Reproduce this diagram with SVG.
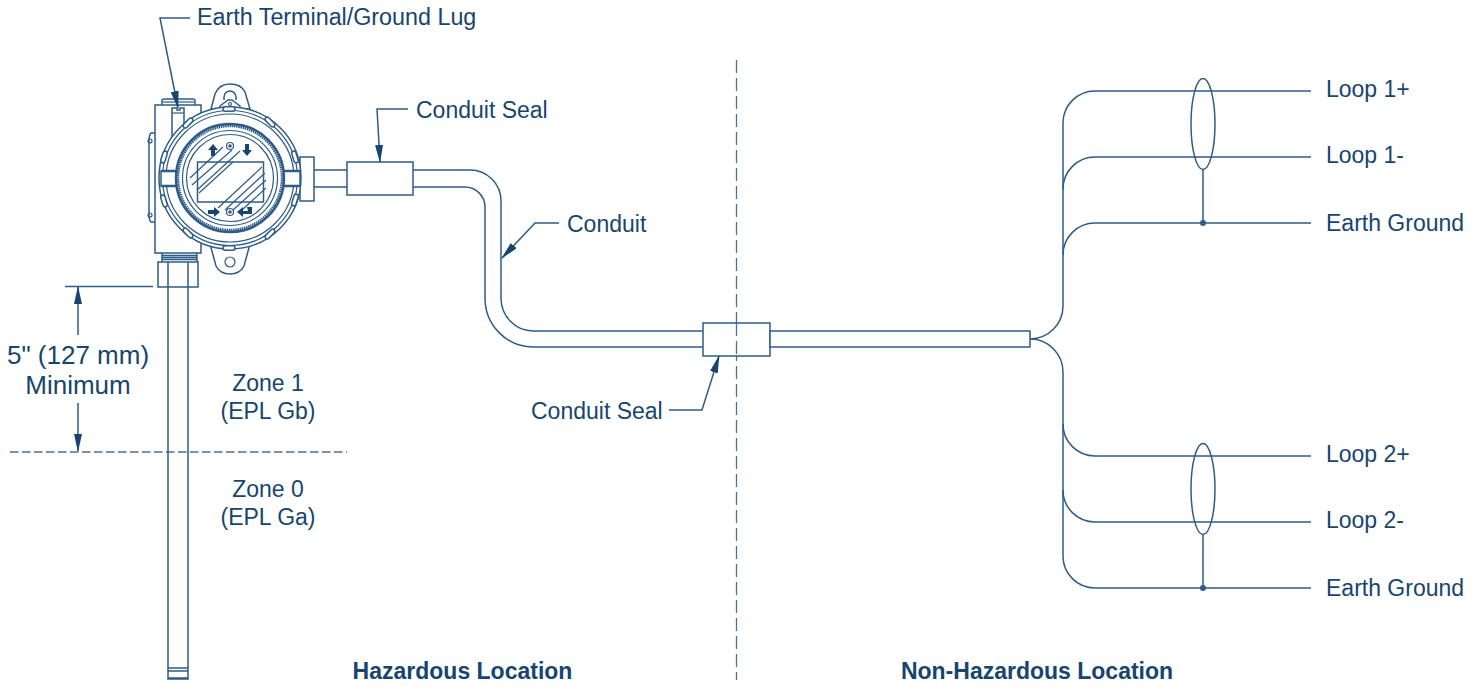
<svg xmlns="http://www.w3.org/2000/svg" xmlns:xlink="http://www.w3.org/1999/xlink" width="1481" height="686" viewBox="0 0 1481 686">
<style>
text{font-family:"Liberation Sans",Arial,sans-serif;font-size:23px;fill:#17456e}
.b{font-weight:bold}
.big{font-size:26px}
.m{text-anchor:middle}
.l{fill:none;stroke:#2f5c87;stroke-width:1.5}
.t{fill:none;stroke:#2f5c87;stroke-width:1.200}
.w{fill:#fff;stroke:#2f5c87;stroke-width:1.500}
.f{fill:#17456e;stroke:none}
.k{fill:none;stroke:#2f5c87;stroke-width:2.500}
.d{fill:none;stroke:#4a7096;stroke-width:1.300}
</style>
<defs>
<marker id="a" markerUnits="userSpaceOnUse" markerWidth="18" markerHeight="8" refX="17" refY="4" orient="auto"><path d="M0 0L18 4L0 8Z" fill="#17456e"/></marker>
<rect id="bolt" x="-2.200" y="-6" width="4.400" height="12" rx="2.200" class="w"/>
</defs>
<g id="zone-lines">
<path class="d" d="M736.500 60V680" stroke-dasharray="13 5"/>
<path class="d" d="M10 452H347" stroke-dasharray="8.500 3.500"/>
</g>
<g id="probe">
<path class="l" d="M168 287V679H188V287M168 668H188M168 671H188M168 678H188"/>
</g>
<g id="transmitter">
<path class="w" d="M162 105V100Q162 99 164 99H193Q195 99 195 100V105"/>
<path class="t" d="M163 102H194"/>
<path class="w" d="M155 105H201V253H155Z"/>
<path class="l" d="M155 133H151Q149 135 149 141V214Q149 220 151 222H155"/>
<circle class="t" cx="150" cy="141" r="2"/><circle class="t" cx="150" cy="215" r="2"/>
<path class="w" d="M172 137V108H177V110H180V108H184V137"/>
<path class="t" d="M172 113H184"/>
<path class="l" d="M162 253V262M197 253V262M162 255.500H197M162 257.500H197M162 259.500H197"/>
<rect class="w" x="158" y="262" width="40" height="25"/>
<path class="l" d="M168 262V287M188 262V287"/>
<path class="w" d="M211 109L215 94Q219 84 230 84Q241 84 245 92L250 109Z"/>
<path class="l" d="M224 100V97A6 6 0 0 1 236 97V100"/>
<path class="w" d="M220 106L228 100H232L240 106V110H220Z"/>
<circle class="t" cx="230" cy="104" r="1.500"/>
<path class="w" d="M210 244L216 266Q220 274 230 274Q240 274 244 266L250 244Z"/>
<circle class="t" cx="230" cy="262" r="5"/>
<path class="w" d="M300 157H314V201H300Z"/>
<path class="l" d="M314 170H347M314 187H347"/>
<circle class="w" cx="230" cy="178" r="71"/>
<circle class="t" cx="230" cy="178" r="67.500"/>
<circle class="t" cx="230" cy="178" r="64"/>
<g>
<use xlink:href="#bolt" href="#bolt" transform="translate(270 122) rotate(-45)"/>
<use xlink:href="#bolt" href="#bolt" transform="translate(295 157) rotate(-17)"/>
<use xlink:href="#bolt" href="#bolt" transform="translate(295 200) rotate(17)"/>
<use xlink:href="#bolt" href="#bolt" transform="translate(270 234) rotate(45)"/>
<use xlink:href="#bolt" href="#bolt" transform="translate(229 248) rotate(90)"/>
<use xlink:href="#bolt" href="#bolt" transform="translate(188 233) rotate(-45)"/>
<use xlink:href="#bolt" href="#bolt" transform="translate(164 201) rotate(-17)"/>
<use xlink:href="#bolt" href="#bolt" transform="translate(164 157) rotate(17)"/>
<use xlink:href="#bolt" href="#bolt" transform="translate(188 123) rotate(45)"/>
<use xlink:href="#bolt" href="#bolt" transform="translate(229 109) rotate(90)"/>
</g>
<path class="w" d="M161 171H178V186H161ZM282 171H300V186H282Z"/>
<path class="k" d="M161 171H178M161 186H178M282 171H300M282 186H300"/>
<circle cx="230" cy="178" r="54" fill="#fff" stroke="#2f5c87" stroke-width="2.500"/>
<circle cx="230" cy="178" r="52" fill="none" stroke="#2f5c87" stroke-width="2.500" stroke-dasharray="1.500 .7"/>
<circle class="t" cx="230" cy="178" r="47.500"/>
<circle class="t" cx="230" cy="178" r="43.500"/>
<rect class="l" x="197.500" y="162" width="66" height="40"/>
<path class="t" d="M190 178L223 147M192 185L232 150M197 190L240 151M199 193L233 162M218 208L262 167M225 210L265 173M233 210L266 180M242 210L266 188"/>
<path class="f" d="M213 144L218 150H215V156H211V150H208ZM247 156L242 150H245V144H249V150H252ZM208 210H214V207L220 212L214 217V214H208ZM247 207H252V214H243V217L237 212L243 207V211H248Z"/>
<circle class="t" cx="230" cy="146" r="3.500"/><circle cx="230" cy="146" r="1.800" fill="#2f5c87"/>
<circle class="t" cx="230" cy="212" r="3.500"/><circle cx="230" cy="212" r="1.800" fill="#2f5c87"/>
</g>
<g id="conduit-1">
<path class="l" d="M413 170H470A31 31 0 0 1 501 201V298A32 33 0 0 0 533 331H703M413 187H465A20 20 0 0 1 485 207V298A48 49 0 0 0 533 347H703"/>
</g>
<g id="conduit-seal-1"><rect class="w" x="347" y="162" width="66" height="33"/></g>
<g id="conduit-seal-2"><rect class="w" x="703" y="323" width="67" height="33"/><path class="d" d="M736.500 323V356" stroke-dasharray="13 5"/></g>
<g id="conduit-2"><rect class="w" x="770" y="331" width="260" height="16"/></g>
<g id="connectors">
<path class="l" d="M1311 91H1095A32 32 0 0 0 1063 123V306A33 33 0 0 1 1030 339A33 33 0 0 1 1063 372V556A32 32 0 0 0 1095 588H1311"/>
<path class="l" d="M1063 189A32 32 0 0 1 1095 157H1311M1063 255A32 32 0 0 1 1095 223H1311M1063 424A32 32 0 0 0 1095 456H1311M1063 490A32 32 0 0 0 1095 522H1311"/>
<ellipse class="l" cx="1203" cy="124" rx="12" ry="45.500"/>
<ellipse class="l" cx="1203" cy="489" rx="12" ry="45.500"/>
<path class="l" d="M1203 169.500V223M1203 534.500V588"/>
<circle cx="1203" cy="223" r="3" fill="#2f5c87"/><circle cx="1203" cy="588" r="3" fill="#2f5c87"/>
<path class="l" d="M190 18H160L178 108" marker-end="url(#a)"/>
<path class="l" d="M408 109H377L380 162" marker-end="url(#a)"/>
<path class="l" d="M559 223H535L502 258" marker-end="url(#a)"/>
<path class="l" d="M669 410H702L719 356" marker-end="url(#a)"/>
<path class="l" d="M65 286.500H153"/>
<path class="l" d="M78 335V287" marker-end="url(#a)"/>
<path class="l" d="M78 403V451" marker-end="url(#a)"/>
</g>
<g id="labels">
<text x="197" y="25" style="font-size:23.300px">Earth Terminal/Ground Lug</text>
<text x="416" y="117.500">Conduit Seal</text>
<text x="567" y="231.500">Conduit</text>
<text x="531" y="418.500">Conduit Seal</text>
<text class="big m" x="78" y="363.500">5" (127 mm)</text>
<text class="big m" x="78" y="394">Minimum</text>
<text class="m" x="268" y="391">Zone 1</text>
<text class="m" x="268" y="419">(EPL Gb)</text>
<text class="m" x="268" y="497">Zone 0</text>
<text class="m" x="268" y="525">(EPL Ga)</text>
<text x="1326" y="97">Loop 1+</text>
<text x="1326" y="163">Loop 1-</text>
<text x="1326" y="231">Earth Ground</text>
<text x="1326" y="462">Loop 2+</text>
<text x="1326" y="528">Loop 2-</text>
<text x="1326" y="596">Earth Ground</text>
<text class="b m" x="462.500" y="679">Hazardous Location</text>
<text class="b m" x="1037" y="679">Non-Hazardous Location</text>
</g>
</svg>
